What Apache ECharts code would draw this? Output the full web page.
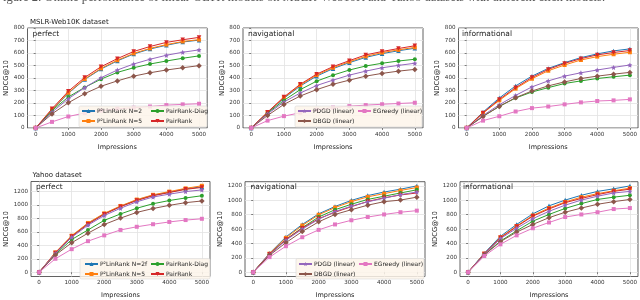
<!DOCTYPE html>
<html><head><meta charset="utf-8">
<script src="https://cdn.jsdelivr.net/npm/echarts@6/dist/echarts.min.js"></script>
<style>html,body{margin:0;padding:0;background:#fff}#c{width:640px;height:300px}</style>
</head><body><div id="c"></div>
<script>
const impressions = [0,500,1000,1500,2000,2500,3000,3500,4000,4500,5000];
const xTicks = [0,1000,2000,3000,4000,5000];
const yTicksTop = [0,100,200,300,400,500,600,700,800];
const yTicksBottom = [0,200,400,600,800,1000,1200];

// MSLR-Web10K perfect
const msPerfN2   = [0,143,278,388,472,537,592,632,662,688,703];
const msPerfN5   = [0,146,282,392,477,542,597,637,667,692,707];
const msPerfDiag = [0,140,248,325,391,445,482,512,536,558,577];
const msPerfPR   = [0,154,294,404,490,555,612,652,685,706,725];
const msPerfPDGD = [0,127,234,323,402,464,512,550,582,606,625];
const msPerfDBGD = [0,113,202,275,334,377,415,442,464,482,499];
const msPerfEG   = [0,49,92,120,140,154,162,172,183,189,194];
// MSLR-Web10K navigational
const msNavN2   = [0,122,238,336,415,475,523,565,595,618,638];
const msNavN5   = [0,125,243,343,423,482,530,573,603,625,645];
const msNavDiag = [0,119,221,307,375,423,464,496,518,536,550];
const msNavPR   = [0,127,248,350,431,491,539,585,612,636,658];
const msNavPDGD = [0,113,208,280,340,383,423,455,482,501,518];
const msNavDBGD = [0,100,189,256,307,350,383,415,437,455,469];
const msNavEG   = [0,59,95,122,146,163,175,183,190,196,202];
// MSLR-Web10K informational
const msInfN2   = [0,127,240,337,415,477,523,563,593,617,633];
const msInfN5   = [0,119,221,315,394,458,504,544,571,590,606];
const msInfDiag = [0,94,173,240,288,323,356,377,396,410,423];
const msInfPR   = [0,121,229,323,404,469,517,555,585,604,620];
const msInfPDGD = [0,100,186,261,329,377,415,442,464,485,504];
const msInfDBGD = [0,92,173,243,296,337,369,396,415,431,445];
const msInfEG   = [0,59,94,132,159,172,189,205,216,221,229];
// Yahoo perfect
const yhPerfN2   = [0,290,537,725,868,980,1075,1145,1190,1240,1271];
const yhPerfN5   = [0,295,543,733,876,986,1081,1152,1200,1248,1286];
const yhPerfDiag = [0,265,486,629,771,867,952,1019,1067,1105,1138];
const yhPerfPR   = [0,285,530,715,862,975,1067,1138,1186,1233,1262];
const yhPerfPDGD = [0,280,519,700,843,952,1048,1119,1162,1200,1224];
const yhPerfDBGD = [0,255,438,581,710,805,890,948,995,1035,1060];
const yhPerfEG   = [0,200,343,462,548,629,676,714,748,776,795];
// Yahoo navigational
const yhNavN2   = [0,263,491,665,812,915,1000,1067,1116,1156,1201];
const yhNavN5   = [0,258,478,650,799,900,982,1049,1094,1138,1179];
const yhNavDiag = [0,250,455,620,768,870,946,1013,1058,1103,1147];
const yhNavPR   = [0,250,455,612,745,835,912,985,1036,1075,1103];
const yhNavPDGD = [0,245,445,600,737,844,920,980,1030,1080,1116];
const yhNavDBGD = [0,235,411,567,701,804,870,933,982,1004,1045];
const yhNavEG   = [0,210,362,487,589,665,723,768,804,835,857];
// Yahoo informational
const yhInfN2   = [0,265,500,665,812,924,1004,1071,1125,1161,1201];
const yhInfN5   = [0,258,485,643,790,893,978,1045,1094,1134,1170];
const yhInfDiag = [0,245,433,576,710,804,888,955,1013,1045,1071];
const yhInfPR   = [0,255,478,635,780,880,968,1027,1080,1125,1156];
const yhInfPDGD = [0,250,468,612,745,848,933,1004,1058,1103,1125];
const yhInfDBGD = [0,240,425,558,665,759,835,893,946,982,1013];
const yhInfEG   = [0,225,388,513,612,692,768,804,835,879,893];

const namesTop = ['P\u00b2LinRank N=2','P\u00b2LinRank N=5','PairRank-Diag','PairRank','PDGD (linear)','DBGD (linear)','EGreedy (linear)'];
const namesBottom = ['P\u00b2LinRank N=2f','P\u00b2LinRank N=5','PairRank-Diag','PairRank','PDGD (linear)','DBGD (linear)','EGreedy (linear)'];

const colors = ['#1f77b4','#ff7f0e','#2ca02c','#d62728','#9467bd','#8c564b','#e377c2'];
const STAR = 'path://M0,-10 L2.9,-4 L9.5,-3.1 L4.7,1.5 L5.9,8.1 L0,5 L-5.9,8.1 L-4.7,1.5 L-9.5,-3.1 L-2.9,-4 Z';
const THIN = 'path://M0,-10 L6,0 L0,10 L-6,0 Z';
const symbols = ['triangle','rect','circle','triangle',STAR,THIN,'rect'];
const rotates = [0,0,0,180,0,0,0];
const sizes = [4.5,4,4,4.5,5,5.5,4];

const panels = [
  {arrs:[msPerfN2,msPerfN5,msPerfDiag,msPerfPR,msPerfPDGD,msPerfDBGD,msPerfEG], names:namesTop},
  {arrs:[msNavN2,msNavN5,msNavDiag,msNavPR,msNavPDGD,msNavDBGD,msNavEG], names:namesTop},
  {arrs:[msInfN2,msInfN5,msInfDiag,msInfPR,msInfPDGD,msInfDBGD,msInfEG], names:namesTop},
  {arrs:[yhPerfN2,yhPerfN5,yhPerfDiag,yhPerfPR,yhPerfPDGD,yhPerfDBGD,yhPerfEG], names:namesBottom},
  {arrs:[yhNavN2,yhNavN5,yhNavDiag,yhNavPR,yhNavPDGD,yhNavDBGD,yhNavEG], names:namesBottom},
  {arrs:[yhInfN2,yhInfN5,yhInfDiag,yhInfPR,yhInfPDGD,yhInfDBGD,yhInfEG], names:namesBottom}
];

const gridPos = [
  {left:27.5, top:28, width:179.7, height:100},
  {left:243, top:28, width:180, height:100},
  {left:458.5, top:28, width:180.5, height:100},
  {left:31, top:181.5, width:179, height:98.8},
  {left:245, top:181.7, width:180, height:98.3},
  {left:460, top:181.7, width:179, height:98.3}
];
const yRanges = [[0,800],[0,800],[0,800],[-64,1350],[-60,1260],[-60,1260]];
const yNameGaps = [17.5,17.5,16.5,20.5,19.5,19.5];

const FONT = 'DejaVu Sans';
const plain = v => String(v);
const grids = [], xAxes = [], yAxes = [], series = [];
gridPos.forEach((g,i)=>{
  grids.push(Object.assign({show:true, borderColor:'#3a3a3a', borderWidth:0.8, backgroundColor:'#fff'}, g));
  xAxes.push({gridIndex:i, type:'value', min:-250, max:5250,
    name:'Impressions', nameLocation:'middle', nameGap:15.5,
    nameTextStyle:{fontSize:6.5, color:'#222', fontFamily:FONT},
    axisLine:{show:false},
    axisTick:{show:true, customValues:xTicks, length:2, lineStyle:{color:'#333', width:0.6}},
    axisLabel:{customValues:xTicks, formatter:plain, fontSize:5.6, color:'#333', margin:3.5, fontFamily:FONT},
    splitLine:{show:true, lineStyle:{color:'#e2e2e2', width:0.8}}
  });
  const yt = i<3 ? yTicksTop : yTicksBottom;
  yAxes.push({gridIndex:i, type:'value', min:yRanges[i][0], max:yRanges[i][1],
    name:'NDCG@10', nameLocation:'middle', nameGap:yNameGaps[i], nameRotate:90,
    nameTextStyle:{fontSize:6.8, color:'#222', fontFamily:FONT},
    axisLine:{show:false},
    axisTick:{show:true, customValues:yt, length:2, lineStyle:{color:'#333', width:0.6}},
    axisLabel:{customValues:yt, formatter:plain, fontSize:5.6, color:'#333', margin:3, fontFamily:FONT},
    splitLine:{show:true, lineStyle:{color:'#e2e2e2', width:0.8}}
  });
  const p = panels[i];
  p.arrs.forEach((arr,k)=>{
    series.push({type:'line', name:p.names[k], xAxisIndex:i, yAxisIndex:i,
      data: impressions.map((x,j)=>[x,arr[j]]),
      symbol:symbols[k], symbolRotate:rotates[k], symbolSize:sizes[k], showAllSymbol:true,
      lineStyle:{color:colors[k], width:1}, itemStyle:{color:colors[k]},
      animation:false, silent:true, z:2+k*0.01});
  });
});

const legBase = {orient:'vertical', padding:0, itemWidth:13, itemHeight:5, itemGap:2,
  textStyle:{fontSize:6, color:'#222', fontFamily:FONT, lineHeight:8, padding:[0,0,0,-3]}, selectedMode:false, z:6};
const legends = [
  Object.assign({}, legBase, {left:81, top:107, data:[namesTop[0], namesTop[1]]}),
  Object.assign({}, legBase, {left:150, top:107, data:[namesTop[2], namesTop[3]]}),
  Object.assign({}, legBase, {left:297, top:107, data:[namesTop[4], namesTop[5]]}),
  Object.assign({}, legBase, {left:357, top:107, data:[namesTop[6]]}),
  Object.assign({}, legBase, {left:84, top:260, data:[namesBottom[0], namesBottom[1]]}),
  Object.assign({}, legBase, {left:150, top:260, data:[namesBottom[2], namesBottom[3]]}),
  Object.assign({}, legBase, {left:298, top:260, data:[namesBottom[4], namesBottom[5]]}),
  Object.assign({}, legBase, {left:358, top:260, data:[namesBottom[6]]})
];

function txt(x,y,s,size,extra){
  return Object.assign({type:'text', x:x, y:y, z:10, style:{text:s, fontSize:size, fontFamily:FONT, fill:'#222', textVerticalAlign:'middle'}}, extra||{});
}
function box(x,y,w,h){
  return {type:'rect', z:5, shape:{x:x,y:y,width:w,height:h,r:1.5}, style:{fill:'rgba(253,245,234,0.85)', stroke:'#d8d8d8', lineWidth:0.6}};
}
const graphics = [
  {type:'text', x:-4, y:-9, z:10, style:{text:'Figure 2: Online performance of linear OLTR models on MSLR-Web10K and Yahoo datasets with different click models.', fontSize:12.5, fontFamily:'Liberation Serif', fill:'#555'}},
  txt(30,22,'MSLR-Web10K dataset',7),
  txt(32.5,34.5,'perfect',7.5),
  txt(248,34.5,'navigational',7.5),
  txt(462,34.5,'informational',7.5),
  txt(32.5,175,'Yahoo dataset',7),
  txt(36,187.5,'perfect',7.5),
  txt(250.5,187.5,'navigational',7.5),
  txt(463,187.5,'informational',7.5),
  box(79,106,128,21),
  box(295,106,127,21),
  box(80,258.5,130,20.5),
  box(296,258.5,128,20.5)
];

const chart = echarts.init(document.getElementById('c'), null, {renderer:'canvas'});
chart.setOption({
  animation:false,
  textStyle:{fontFamily:FONT},
  grid:grids, xAxis:xAxes, yAxis:yAxes, series:series,
  legend:legends, graphic:graphics
});
</script></body></html>
